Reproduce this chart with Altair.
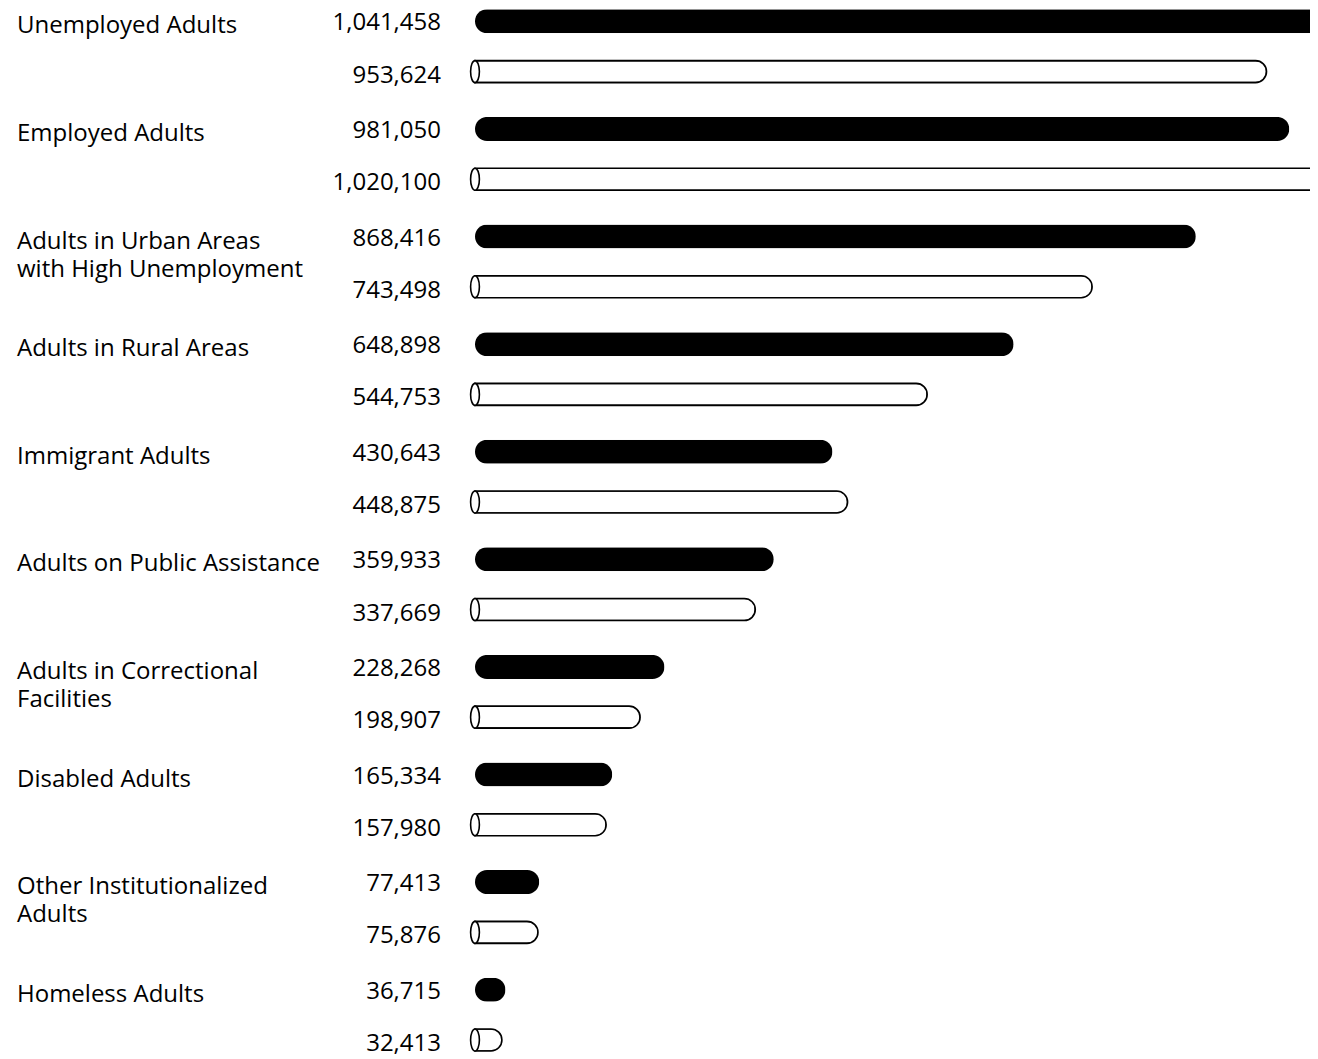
import altair as alt
import pandas as pd

# ---- data ----
categories = [
    "Unemployed Adults",
    "Employed Adults",
    "Adults in Urban Areas\nwith High Unemployment",
    "Adults in Rural Areas",
    "Immigrant Adults",
    "Adults on Public Assistance",
    "Adults in Correctional\nFacilities",
    "Disabled Adults",
    "Other Institutionalized\nAdults",
    "Homeless Adults",
]
filled_values = [1041458, 981050, 868416, 648898, 430643, 359933, 228268, 165334, 77413, 36715]
outline_values = [953624, 1020100, 743498, 544753, 448875, 337669, 198907, 157980, 75876, 32413]

PAIR_GAP = 0.467  # second bar of a pair sits this far (in group units) below the first

rows = []
for g, (f, o) in enumerate(zip(filled_values, outline_values)):
    rows.append({"group": g, "series": "filled", "value": f, "pos": g})
    rows.append({"group": g, "series": "outline", "value": o, "pos": g + PAIR_GAP})
bars_df = pd.DataFrame(rows)
labels_df = pd.DataFrame({"label": categories, "pos": list(range(len(categories)))})

FONT = "Open Sans"
FS = 24

x_scale = alt.Scale(domain=[0, 1006000], range=[467, 1302], nice=False, zero=False, padding=0)
y_scale = alt.Scale(domain=[-0.124, 9.644], reverse=True, nice=False, zero=False, padding=0)

base = alt.Chart(bars_df)
Y = alt.Y("pos:Q", axis=None, scale=y_scale)
X = alt.X("value:Q", axis=None, scale=x_scale)

filled = base.transform_filter(alt.datum.series == "filled").mark_bar(
    orient="horizontal", size=24, cornerRadius=12, color="black"
).encode(x=X, y=Y)

outline = base.transform_filter(alt.datum.series == "outline").mark_bar(
    orient="horizontal", size=22, cornerRadiusEnd=11, fill="white",
    stroke="black", strokeWidth=1.6
).encode(x=X, y=Y)

ELLIPSE = "M 0 -1 A 0.4 1 0 1 1 0 1 A 0.4 1 0 1 1 0 -1 Z"
caps = base.transform_filter(alt.datum.series == "outline").mark_point(
    shape=ELLIPSE, size=484, filled=True, fill="white", stroke="black",
    strokeWidth=1.6, opacity=1
).encode(x=alt.datum(0), y=Y)

values_filled = base.transform_filter(alt.datum.series == "filled").mark_text(
    align="right", baseline="alphabetic", dy=9, font=FONT, fontSize=FS, color="black"
).encode(
    x=alt.value(433), y=Y,
    text=alt.Text("value:Q", format=",d"),
)

values_outline = base.transform_filter(alt.datum.series == "outline").mark_text(
    align="right", baseline="alphabetic", dy=11, font=FONT, fontSize=FS, color="black"
).encode(
    x=alt.value(433), y=Y,
    text=alt.Text("value:Q", format=",d"),
)

labels = alt.Chart(labels_df).mark_text(
    align="left", baseline="alphabetic", dy=12, lineBreak="\n", lineHeight=28,
    font=FONT, fontSize=FS, color="black"
).encode(
    x=alt.value(9), y=Y,
    text="label:N",
)

chart = alt.layer(filled, outline, caps, values_filled, values_outline, labels).properties(
    width=1302, height=1051, padding=0, autosize=alt.AutoSizeParams(type="none"),
    background="white",
).configure_view(stroke=None)

chart.save("out.html", embed_options={"renderer": "svg", "actions": False})
